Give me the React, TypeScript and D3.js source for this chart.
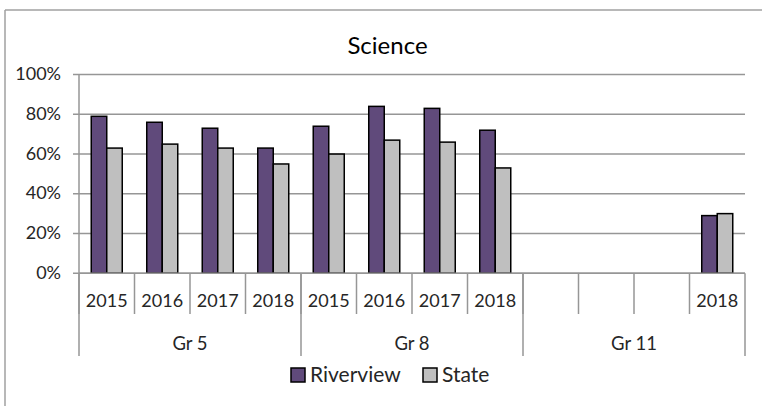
import React from "react";
import * as d3 from "d3";

const groups = ["Gr 5", "Gr 8", "Gr 11"];
const years = [
  ["2015", "2016", "2017", "2018"],
  ["2015", "2016", "2017", "2018"],
  ["", "", "", "2018"],
];
const seriesNames = ["Riverview", "State"];
const riverview: (number | null)[] = [0.79, 0.76, 0.73, 0.63, 0.74, 0.84, 0.83, 0.72, null, null, null, 0.29];
const state: (number | null)[] = [0.63, 0.65, 0.63, 0.55, 0.60, 0.67, 0.66, 0.53, null, null, null, 0.30];
const yTicks = [0, 0.2, 0.4, 0.6, 0.8, 1.0];
const colors = ["#604a7b", "#bfbfbf"];

const W = 762;
const H = 406;
const FONT = "Lato, 'Open Sans', sans-serif";

export default function App() {
  const left = 79, right = 745, top = 74.6, bottom = 273.2;
  const cats = years.flatMap((ys, gi) => ys.map((y, i) => `${gi}-${i}`));
  const x = d3.scaleBand<string>().domain(cats).range([left, right]).padding(0);
  const xs = d3.scaleBand<string>().domain(seriesNames).range([0, x.bandwidth()]).paddingInner(0).paddingOuter(0.79);
  const y = d3.scaleLinear().domain([0, 1]).range([bottom, top]);
  const gx = d3.scaleBand<string>().domain(groups).range([left, right]).padding(0);
  const data = [riverview, state];
  const fmt = d3.format(".0%");
  const grid = "#969696";

  return (
    <svg width={W} height={H} style={{ position: "absolute", left: 0, top: 0, background: "#fff" }} fontFamily={FONT}>
      <rect x={0} y={0} width={W} height={H} fill="#fff" />
      {/* chart border (left & top visible) */}
      <line x1={5} y1={10} x2={W} y2={10} stroke="#a0a0a0" strokeWidth={1.5} />
      <line x1={5} y1={10} x2={5} y2={H} stroke="#a0a0a0" strokeWidth={1.5} />
      <text x={387.5} y={54} textAnchor="middle" fontSize={24} fill="#000">Science</text>
      {/* gridlines and y labels */}
      {yTicks.map((t) => (
        <g key={t}>
          <line x1={left - 6} x2={right} y1={y(t)} y2={y(t)} stroke={grid} strokeWidth={1.5} />
          <text x={61} y={y(t) + 5.5} textAnchor="end" fontSize={18} fill="#262626">{fmt(t)}</text>
        </g>
      ))}
      <line x1={left} x2={left} y1={top} y2={bottom} stroke={grid} strokeWidth={1.5} />
      {/* bars */}
      {data.map((vals, si) =>
        vals.map((v, ci) =>
          v == null ? null : (
            <rect
              key={`${si}-${ci}`}
              x={(x(cats[ci]) as number) + (xs(seriesNames[si]) as number)}
              y={y(v)}
              width={xs.bandwidth()}
              height={y(0) - y(v)}
              fill={colors[si]}
              stroke="#000"
              strokeWidth={1.5}
            />
          )
        )
      )}
      {/* x axis line */}
      <line x1={left} x2={right} y1={bottom} y2={bottom} stroke={grid} strokeWidth={1.5} />
      {/* year separators */}
      {cats.map((c) => (
        <line key={c} x1={x(c)} x2={x(c)} y1={bottom} y2={314} stroke={grid} strokeWidth={1.5} />
      ))}
      <line x1={right} x2={right} y1={bottom} y2={356} stroke={grid} strokeWidth={1.5} />
      {groups.map((g) => (
        <line key={g} x1={gx(g)} x2={gx(g)} y1={bottom} y2={356} stroke={grid} strokeWidth={1.5} />
      ))}
      {/* year labels */}
      {years.flatMap((ys, gi) =>
        ys.map((yr, i) => (
          <text key={`${gi}-${i}`} x={(x(`${gi}-${i}`) as number) + x.bandwidth() / 2} y={307} textAnchor="middle" fontSize={18} fill="#262626">{yr}</text>
        ))
      )}
      {groups.map((g) => (
        <text key={g} x={(gx(g) as number) + gx.bandwidth() / 2} y={350} textAnchor="middle" fontSize={18.5} fill="#262626">{g}</text>
      ))}
      {/* legend */}
      <rect x={291} y={368} width={14} height={14} fill={colors[0]} stroke="#000" strokeWidth={1.5} />
      <text x={310} y={381.5} fontSize={21} fill="#262626">{seriesNames[0]}</text>
      <rect x={423} y={368} width={14} height={14} fill={colors[1]} stroke="#000" strokeWidth={1.5} />
      <text x={442} y={381.5} fontSize={21} fill="#262626">{seriesNames[1]}</text>
    </svg>
  );
}
